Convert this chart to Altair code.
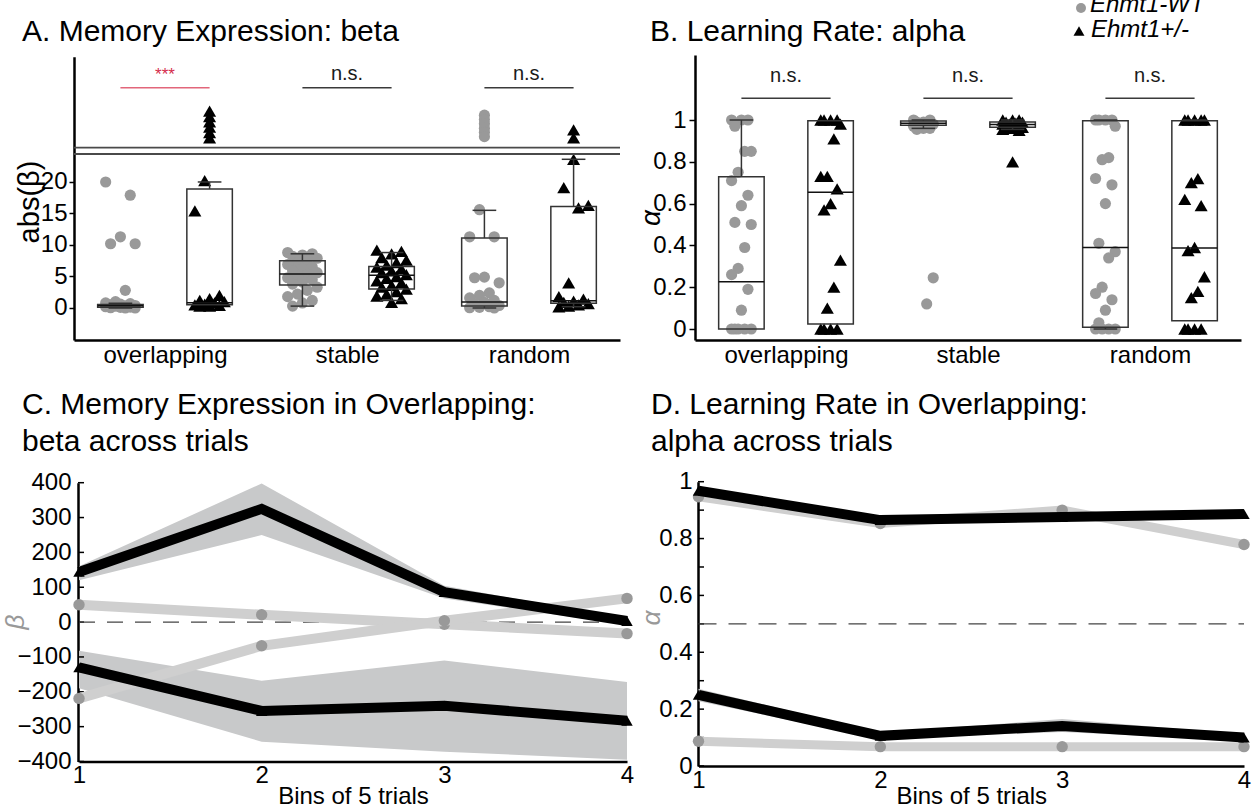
import altair as alt
import pandas as pd

FONT = "Liberation Sans"
W, H = 1255, 809

GROUPS = ["overlapping", "stable", "random"]
WT_GRAY = "#999999"
LINE_GRAY = "#cfcfcf"
BAND_GRAY = "#c8c9ca"

# ---------------- A: |beta| per animal ----------------
A_OVL_WT = [20.0, 17.9, 11.3, 10.2, 10.2, 2.8, 1.0, 0.8, 0.7, 0.6, 0.5, 0.4,
            0.35, 0.3, 0.2, 0.15, 0.1, 0.05, 0.0, 0.0]
A_OVL_HET = [265, 232, 199, 166, 133, 100, 20.2, 15.4, 2.0, 1.5, 1.2, 1.0,
             0.8, 0.6, 0.5, 0.4, 0.3, 0.3]
A_STB_WT = [8.8, 8.6, 8.4, 8.2, 7.9, 7.5, 7.2, 6.9, 6.5, 6.2, 5.9, 5.6, 5.4,
            5.1, 4.8, 4.5, 4.1, 3.8, 3.3, 2.8, 2.2, 1.8, 1.2, 0.8, 0.3]
A_STB_HET = [9.2, 9.0, 8.6, 8.0, 7.6, 7.2, 6.8, 6.5, 6.2, 5.9, 5.6, 5.3, 5.0,
             4.7, 4.3, 4.0, 3.6, 3.3, 3.0, 2.6, 2.2, 1.9, 1.5, 0.9]
A_RND_WT = [240, 213, 187, 160, 135, 108, 15.6, 11.3, 11.3, 4.9, 4.8, 4.0, 2.4,
            2.0, 1.6, 1.2, 0.9, 0.6, 0.4, 0.2, 0.1, 0.05, 0.0]
A_RND_HET = [150, 100, 23.6, 19.1, 16.3, 15.9, 4.0, 1.8, 1.4, 1.1, 0.9, 0.7,
             0.5, 0.3, 0.2]

# box statistics, order: ovl WT, ovl Het, stb WT, stb Het, rnd WT, rnd Het
A_Q1 = [0.1, 0.5, 3.65, 3.0, 0.3, 0.75]
A_MED = [0.35, 0.85, 5.4, 5.2, 0.95, 1.15]
A_Q3 = [0.55, 18.9, 7.5, 6.6, 11.1, 16.1]
A_LO = [0.0, 0.5, 0.3, 1.2, 0.0, 0.2]
A_HI = [0.75, 20.0, 8.6, 8.8, 15.5, 23.6]

# broken axis: lower segment top / upper segment bottom
A_LOW_TOP = 24.44
A_HIGH_BOTTOM = 40.0

A_SIG = ["***", "n.s.", "n.s."]

# ---------------- B: alpha per animal ----------------
B_OVL_WT = [1.0, 1.0, 1.0, 0.97, 0.85, 0.85, 0.75, 0.71, 0.64, 0.59, 0.51, 0.50,
            0.39, 0.29, 0.26, 0.19, 0.09, 0.0, 0.0, 0.0, 0.0, 0.0]
B_OVL_HET = [1.0, 1.0, 1.0, 1.0, 0.98, 0.91, 0.73, 0.73, 0.67, 0.60, 0.57, 0.33,
             0.20, 0.10, 0.0, 0.0, 0.0, 0.0]
B_STB_WT = [1.0, 1.0, 0.99, 0.99, 0.98, 0.98, 0.97, 0.97, 0.96, 0.96, 0.955,
            0.245, 0.12]
B_STB_HET = [1.0, 1.0, 1.0, 0.99, 0.99, 0.985, 0.98, 0.98, 0.975, 0.97, 0.97,
             0.965, 0.96, 0.96, 0.955, 0.95, 0.80]
B_RND_WT = [1.0, 1.0, 1.0, 1.0, 0.97, 0.82, 0.81, 0.72, 0.69, 0.60, 0.41, 0.37,
            0.34, 0.20, 0.17, 0.14, 0.09, 0.03, 0.0, 0.0, 0.0, 0.0]
B_RND_HET = [1.0, 1.0, 1.0, 1.0, 1.0, 0.72, 0.70, 0.62, 0.59, 0.39, 0.375, 0.25,
             0.18, 0.15, 0.0, 0.0, 0.0, 0.0]

B_Q1 = [0.0, 0.024, 0.975, 0.965, 0.008, 0.04]
B_MED = [0.226, 0.654, 0.985, 0.978, 0.39, 0.388]
B_Q3 = [0.729, 0.997, 0.995, 0.99, 0.997, 0.997]
B_LO = [0.0, 0.024, 0.96, 0.955, 0.0, 0.04]
B_HI = [1.0, 0.997, 1.0, 1.0, 1.0, 1.0]

B_SIG = ["n.s.", "n.s.", "n.s."]

# ---------------- C: beta across bins of 5 trials ----------------
BINS = [1, 2, 3, 4]
C_HET_POS = [144, 325, 86, 3]
C_HET_POS_LO = [120, 250, 68, -8]
C_HET_POS_HI = [160, 398, 104, 10]
C_HET_NEG = [-130, -255, -240, -283]
C_HET_NEG_LO = [-190, -343, -372, -395]
C_HET_NEG_HI = [-82, -168, -110, -172]
C_WT_POS = [50, 21, -6, -33]
C_WT_NEG = [-219, -68, 4, 68]
C_TICKS = [-400, -300, -200, -100, 0, 100, 200, 300, 400]

# ---------------- D: alpha across bins of 5 trials ----------------
D_HET_HIGH = [0.968, 0.865, 0.876, 0.886]
D_WT_HIGH = [0.947, 0.853, 0.900, 0.779]
D_HET_LOW = [0.250, 0.106, 0.141, 0.100]
D_HET_LOW_LO = [0.228, 0.095, 0.120, 0.090]
D_HET_LOW_HI = [0.272, 0.117, 0.165, 0.112]
D_WT_LOW = [0.087, 0.068, 0.068, 0.068]
D_TICKS = [0.0, 0.1, 0.2, 0.3, 0.4, 0.5, 0.6, 0.7, 0.8, 0.9, 1.0]
D_LABELS = [0.0, 0.2, 0.4, 0.6, 0.8, 1.0]

# ---------------- scales (one pixel frame per panel) ----------------
AX = alt.Scale(domain=[0.5, 3.5], range=[74, 620], nice=False, zero=False)
AY = alt.Scale(domain=[-5.08, A_LOW_TOP, A_HIGH_BOTTOM, 600],
               range=[340, 154, 147.7, 56.7], nice=False, zero=False)
BX = alt.Scale(domain=[0.5, 3.5], range=[695, 1241], nice=False, zero=False)
BY = alt.Scale(domain=[-0.0526, 1.311], range=[340, 55], nice=False, zero=False)
CX = alt.Scale(domain=[1, 4], range=[79, 627], nice=False, zero=False)
CY = alt.Scale(domain=[-400, 400], range=[761.5, 482.7], nice=False, zero=False)
DX = alt.Scale(domain=[1, 4], range=[698.5, 1244], nice=False, zero=False)
DY = alt.Scale(domain=[0, 1], range=[766, 481.7], nice=False, zero=False)

AXIS_COMMON = dict(grid=False, domainColor="black", domainWidth=2.5,
                   labelFont=FONT, labelFontSize=24, labelColor="black",
                   tickColor="black", tickWidth=1.5, labelFlush=False)

CAT_EXPR = ("datum.value == 1 ? '%s' : datum.value == 2 ? '%s' : '%s'"
            % tuple(GROUPS))


def cat_xaxis():
    return alt.Axis(orient="bottom", offset=340 - H, values=[1, 2, 3],
                    labelExpr=CAT_EXPR, tickSize=0, labelPadding=3,
                    labelAngle=0, title=None, **AXIS_COMMON)


def bins_xaxis(y_pix):
    return alt.Axis(orient="bottom", offset=y_pix - H, values=BINS, format="d",
                    tickSize=0, labelPadding=2, labelAngle=0,
                    title="Bins of 5 trials", titleFont=FONT, titleFontSize=24,
                    titleFontWeight="normal", titleColor="black",
                    titleBaseline="alphabetic", titleY=803 - y_pix,
                    **AXIS_COMMON)


def ex(field, scale, axis=None):
    return alt.X(field, type="quantitative", scale=scale, axis=axis)


def ey(field, scale, axis=None):
    return alt.Y(field, type="quantitative", scale=scale, axis=axis)


def scatter_frame(series):
    rows = []
    for (gi, side), vals in series:
        for k, v in enumerate(vals):
            rows.append({"gi": gi, "side": side, "k": k, "v": v})
    return pd.DataFrame(rows)


def box_frame(q1, med, q3, lo, hi):
    return pd.DataFrame({"gi": [1, 1, 2, 2, 3, 3], "side": [0, 1] * 3,
                         "q1": q1, "med": med, "q3": q3, "lo": lo, "hi": hi})


def point_layers(df, xs, ys, jit, xaxis, yaxis):
    base = alt.Chart(df).transform_calculate(
        pos="datum.gi + (datum.side == 0 ? -0.245 : 0.245)"
            " + (datum.v > 40 ? 0 : ((datum.k * 5) %% 7 - 3) * %s)" % jit)
    wt = base.transform_filter("datum.side == 0").mark_point(
        shape="circle", filled=True, size=125, color=WT_GRAY, opacity=1
    ).encode(x=ex("pos", xs, xaxis), y=ey("v", ys, yaxis))
    het = base.transform_filter("datum.side == 1").mark_point(
        shape="triangle-up", filled=True, size=170, color="black", opacity=1
    ).encode(x=ex("pos", xs), y=ey("v", ys))
    return [wt, het]


def box_layers(df, xs, ys):
    base = alt.Chart(df).transform_calculate(
        c="datum.gi + (datum.side == 0 ? -0.245 : 0.245)"
    ).transform_calculate(
        l="datum.c - 0.125", r="datum.c + 0.125",
        cl="datum.c - 0.065", cr="datum.c + 0.065")
    line = dict(color="#333333", strokeWidth=1.5)
    up = base.transform_filter("datum.hi > datum.q3")
    dn = base.transform_filter("datum.lo < datum.q1")
    return [
        up.mark_rule(**line).encode(x=ex("c", xs), y=ey("q3", ys), y2="hi"),
        up.mark_rule(**line).encode(x=ex("cl", xs), x2="cr", y=ey("hi", ys)),
        dn.mark_rule(**line).encode(x=ex("c", xs), y=ey("lo", ys), y2="q1"),
        dn.mark_rule(**line).encode(x=ex("cl", xs), x2="cr", y=ey("lo", ys)),
        base.mark_rect(fillOpacity=0, stroke="#333333", strokeWidth=1.5).encode(
            x=ex("l", xs), x2="r", y=ey("q1", ys), y2="q3"),
        base.mark_rule(color="#111111", strokeWidth=1.5).encode(
            x=ex("l", xs), x2="r", y=ey("med", ys)),
    ]


def sig_layers(labels, xs, y_line, y_text):
    base = alt.Chart(pd.DataFrame({"gi": [1, 2, 3], "lab": labels})).transform_calculate(
        a="datum.gi - 0.245", b="datum.gi + 0.245",
        lc="datum.lab == '***' ? '#e2667a' : '#3a3a3a'",
        tc="datum.lab == '***' ? '#d52d4c' : '#1a1a1a'",
        fs="datum.lab == '***' ? 17 : 20")
    rule = base.mark_rule(strokeWidth=1.5).encode(
        x=ex("a", xs), x2="b", y=alt.value(y_line),
        color=alt.Color("lc:N", scale=None))
    text = base.mark_text(font=FONT, align="center", baseline="alphabetic").encode(
        x=ex("gi", xs), y=alt.value(y_text), text="lab:N",
        color=alt.Color("tc:N", scale=None), size=alt.Size("fs:Q", scale=None))
    return [rule, text]


def label(text, x, y, size, color="black", angle=0, style="normal",
          align="left", baseline="alphabetic"):
    return alt.Chart(pd.DataFrame({"t": [text]})).mark_text(
        font=FONT, fontSize=size, color=color, angle=angle, fontStyle=style,
        align=align, baseline=baseline
    ).encode(x=alt.value(x), y=alt.value(y), text="t:N")


def inward_ticks(values, x0, ys):
    return alt.Chart(pd.DataFrame({"t": values})).mark_rule(
        color="black", strokeWidth=1.5
    ).encode(x=alt.value(x0), x2=alt.value(x0 + 6), y=ey("t", ys))


layers = []

# ---------------- panel A ----------------
a_points = scatter_frame([((1, 0), A_OVL_WT), ((1, 1), A_OVL_HET),
                          ((2, 0), A_STB_WT), ((2, 1), A_STB_HET),
                          ((3, 0), A_RND_WT), ((3, 1), A_RND_HET)])
a_yaxis = alt.Axis(orient="left", offset=-74, values=[0, 5, 10, 15, 20],
                   tickSize=5, labelPadding=2, title=None, **AXIS_COMMON)
layers += point_layers(a_points, AX, AY, 0.027, cat_xaxis(), a_yaxis)
layers += box_layers(box_frame(A_Q1, A_MED, A_Q3, A_LO, A_HI), AX, AY)
layers.append(alt.Chart(pd.DataFrame({"y": [A_LOW_TOP, A_HIGH_BOTTOM]})).mark_rule(
    color="#4a4a4a", strokeWidth=1.8
).encode(x=alt.value(74), x2=alt.value(620), y=ey("y", AY)))
layers += sig_layers(A_SIG, AX, 87.7, 80)

# ---------------- panel B ----------------
b_points = scatter_frame([((1, 0), B_OVL_WT), ((1, 1), B_OVL_HET),
                          ((2, 0), B_STB_WT), ((2, 1), B_STB_HET),
                          ((3, 0), B_RND_WT), ((3, 1), B_RND_HET)])
b_yaxis = alt.Axis(orient="left", offset=-695, values=D_LABELS, format="~g",
                   tickSize=6, labelPadding=3, title=None, **AXIS_COMMON)
layers += point_layers(b_points, BX, BY, 0.018, cat_xaxis(), b_yaxis)
layers += box_layers(box_frame(B_Q1, B_MED, B_Q3, B_LO, B_HI), BX, BY)
layers += sig_layers(B_SIG, BX, 98.3, 82)

# ---------------- panel C ----------------
c_df = pd.DataFrame({"x": BINS, "hp": C_HET_POS, "hp_lo": C_HET_POS_LO,
                     "hp_hi": C_HET_POS_HI, "hn": C_HET_NEG,
                     "hn_lo": C_HET_NEG_LO, "hn_hi": C_HET_NEG_HI,
                     "wp": C_WT_POS, "wn": C_WT_NEG})
c = alt.Chart(c_df)
c_yaxis = alt.Axis(orient="left", offset=-78, values=C_TICKS, tickSize=0,
                   labelPadding=7, title=None, **AXIS_COMMON)
layers.append(c.mark_area(color=BAND_GRAY, opacity=1).encode(
    x=ex("x", CX, bins_xaxis(761.5)), y=ey("hp_lo", CY, c_yaxis), y2="hp_hi"))
layers.append(c.mark_area(color=BAND_GRAY, opacity=1).encode(
    x=ex("x", CX), y=ey("hn_lo", CY), y2="hn_hi"))
layers.append(inward_ticks(C_TICKS, 78, CY))
layers.append(alt.Chart(pd.DataFrame({"a": [1], "b": [4], "y": [0]})).mark_rule(
    color="#444444", strokeWidth=1.2, strokeDash=[16, 12]
).encode(x=ex("a", CX), x2="b", y=ey("y", CY)))
for col in ["wp", "wn"]:
    layers.append(c.mark_line(color=LINE_GRAY, strokeWidth=10).encode(
        x=ex("x", CX), y=ey(col, CY)))
    layers.append(c.mark_point(shape="circle", filled=True, size=130,
                               color=WT_GRAY, opacity=1).encode(
        x=ex("x", CX), y=ey(col, CY)))
for col in ["hp", "hn"]:
    layers.append(c.mark_line(color="black", strokeWidth=10).encode(
        x=ex("x", CX), y=ey(col, CY)))
    layers.append(c.mark_point(shape="triangle-up", filled=True, size=130,
                               color="black", opacity=1).encode(
        x=ex("x", CX), y=ey(col, CY)))

# ---------------- panel D ----------------
d_df = pd.DataFrame({"x": BINS, "hh": D_HET_HIGH, "wh": D_WT_HIGH,
                     "hl": D_HET_LOW, "hl_lo": D_HET_LOW_LO,
                     "hl_hi": D_HET_LOW_HI, "wl": D_WT_LOW})
d = alt.Chart(d_df)
d_yaxis = alt.Axis(orient="left", offset=-698, values=D_LABELS, format="~g",
                   tickSize=0, labelPadding=6, title=None, **AXIS_COMMON)
layers.append(d.mark_area(color=BAND_GRAY, opacity=1).encode(
    x=ex("x", DX, bins_xaxis(766)), y=ey("hl_lo", DY, d_yaxis), y2="hl_hi"))
layers.append(inward_ticks(D_TICKS, 698, DY))
layers.append(alt.Chart(pd.DataFrame({"a": [1], "b": [4], "y": [0.5]})).mark_rule(
    color="#444444", strokeWidth=1.2, strokeDash=[18, 12]
).encode(x=ex("a", DX), x2="b", y=ey("y", DY)))
for col in ["wh", "wl"]:
    layers.append(d.mark_line(color=LINE_GRAY, strokeWidth=9).encode(
        x=ex("x", DX), y=ey(col, DY)))
    layers.append(d.mark_point(shape="circle", filled=True, size=130,
                               color=WT_GRAY, opacity=1).encode(
        x=ex("x", DX), y=ey(col, DY)))
for col in ["hh", "hl"]:
    layers.append(d.mark_line(color="black", strokeWidth=10).encode(
        x=ex("x", DX), y=ey(col, DY)))
    layers.append(d.mark_point(shape="triangle-up", filled=True, size=130,
                               color="black", opacity=1).encode(
        x=ex("x", DX), y=ey(col, DY)))

# ---------------- titles, axis titles, legend ----------------
layers += [
    label("A. Memory Expression: beta", 22, 41, 30),
    label("B. Learning Rate: alpha", 650, 41, 30),
    label("C. Memory Expression in Overlapping:", 22, 414, 30),
    label("beta across trials", 22, 451, 30),
    label("D. Learning Rate in Overlapping:", 651, 414, 30),
    label("alpha across trials", 651, 451, 30),
    label("abs(β)", 30, 202, 29, angle=270, align="center", baseline="middle"),
    label("α", 652, 218, 28, angle=270, style="italic", align="center",
          baseline="middle"),
    label("β", 16, 622, 26, color=WT_GRAY, angle=270, style="italic",
          align="center", baseline="middle"),
    label("α", 652, 618, 26, color=WT_GRAY, angle=270, style="italic",
          align="center", baseline="middle"),
]

legend_dot = alt.Chart(pd.DataFrame({"g": ["Ehmt1-WT"]})).mark_point(
    shape="circle", filled=True, size=100, color=WT_GRAY, opacity=1
).encode(x=alt.value(1081), y=alt.value(8))
legend_tri = alt.Chart(pd.DataFrame({"g": ["Ehmt1+/-"]})).mark_point(
    shape="triangle-up", filled=True, size=120, color="black", opacity=1
).encode(x=alt.value(1079), y=alt.value(31))
layers += [legend_dot, legend_tri,
           label("Ehmt1-WT", 1090, 12, 24, style="italic"),
           label("Ehmt1+/-", 1091, 37, 24, style="italic")]

chart = alt.layer(*layers).resolve_scale(
    x="independent", y="independent"
).properties(
    width=W, height=H, padding=0,
    autosize=alt.AutoSizeParams(type="none"),
    background="white",
).configure_view(strokeWidth=0)

chart.save("out.html", embed_options={"renderer": "svg", "actions": False})
